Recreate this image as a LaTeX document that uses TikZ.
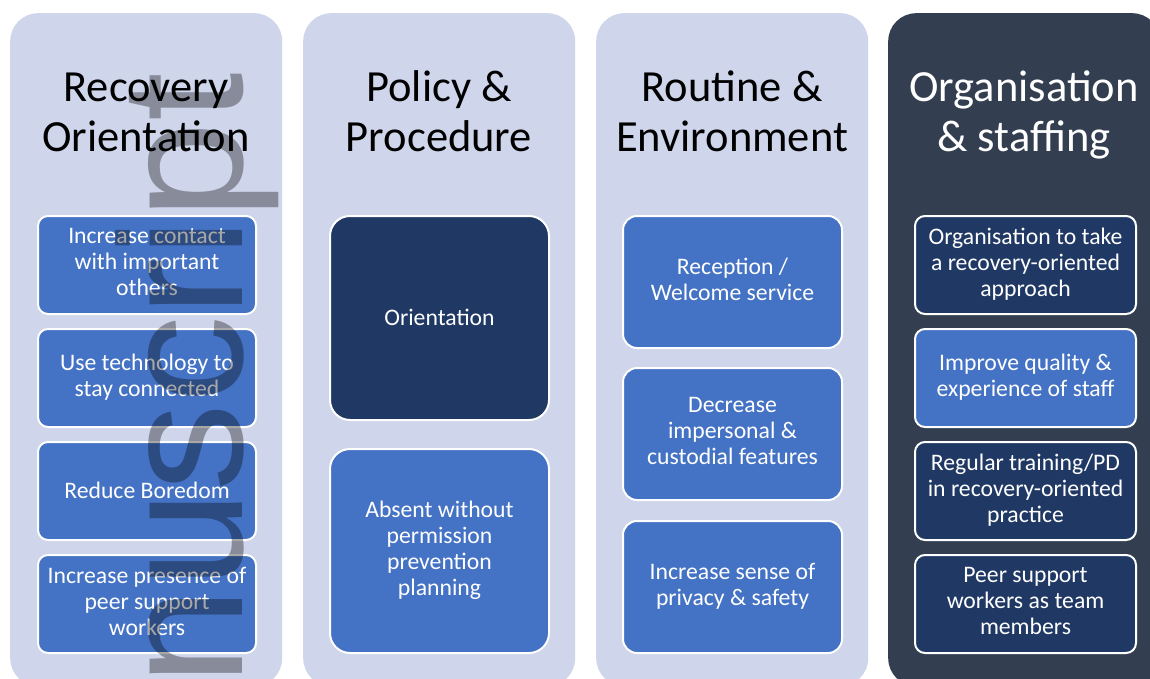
\documentclass[tikz,border=0pt]{standalone}
\usepackage{fontspec}
\setmainfont{Carlito}
\newfontfamily\wmfamily{Liberation Sans}
\definecolor{colbg}{HTML}{CFD5EA}
\definecolor{coldark}{HTML}{333F50}
\definecolor{boxblue}{HTML}{4472C4}
\definecolor{boxnavy}{HTML}{203864}
% fixed line box so that every label is centred the same way
\newcommand\boxstrut{\rule[-5.8pt]{0pt}{26pt}}
\tikzset{
  colbox/.style={fill=#1, rounded corners=28, inner sep=0, anchor=north west,
    minimum width=272, minimum height=673},
  coltitle/.style={anchor=base, align=center, inner sep=0, text=#1,
    font=\fontsize{44.5}{50}\selectfont},
  item/.style={draw=white, line width=2, fill=#1, anchor=north west,
    align=center, inner sep=0, text=white,
    font=\fontsize{23.7}{26}\selectfont,
    execute at begin node=\boxstrut, execute at end node=\boxstrut},
  itemA/.style={item=#1, rounded corners=10, minimum width=218, minimum height=98},
  itemB/.style={item=#1, rounded corners=20, minimum width=219, minimum height=204},
  itemC/.style={item=#1, rounded corners=14, minimum width=219, minimum height=132},
  itemD/.style={item=#1, rounded corners=10, minimum width=221, minimum height=98},
}
\begin{document}
\begin{tikzpicture}[x=1pt, y=-1pt]
\useasboundingbox (0,0) rectangle (1150,679);
\fill[white] (0,0) rectangle (1150,679);
\begin{scope}
\clip (0,0) rectangle (1150,679);

% four column panels
\node[colbox=colbg]   (c1) at (10,13)  {};
\node[colbox=colbg]   (c2) at (303,13) {};
\node[colbox=colbg]   (c3) at (596,13) {};
\node[colbox=coldark] (c4) at (888,13) {};

% column headings (anchored on the baseline of the second line)
\node[coltitle=black] (t1) at (146,152)  {Recovery\\Orientation};
\node[coltitle=black] (t2) at (439,152)  {Policy \&\\Procedure};
\node[coltitle=black] (t3) at (732,152)  {Routine \&\\Environment};
\node[coltitle=white] (t4) at (1024,152) {Organisation\\\& staffing};

% Recovery Orientation
\node[itemA=boxblue] (b11) at (37,215) {Increase contact\\with important\\others};
\node[itemA=boxblue] (b12) at (37,328) {Use technology to\\stay connected};
\node[itemA=boxblue] (b13) at (37,441) {Reduce Boredom};
\node[itemA=boxblue] (b14) at (37,554) {Increase presence of\\peer support\\workers};

% Policy & Procedure
\node[itemB=boxnavy] (b21) at (329,215) {Orientation};
\node[itemB=boxblue] (b22) at (329,448) {Absent without\\permission\\prevention\\planning};

% Routine & Environment
\node[itemC=boxblue] (b31) at (622,215) {Reception /\\Welcome service};
\node[itemC=boxblue] (b32) at (622,367) {Decrease\\impersonal \&\\custodial features};
\node[itemC=boxblue] (b33) at (622,520) {Increase sense of\\privacy \& safety};

% Organisation & staffing
\node[itemD=boxnavy] (b41) at (914,215) {Organisation to take\\a recovery-oriented\\approach};
\node[itemD=boxblue] (b42) at (914,328) {Improve quality \&\\experience of staff};
\node[itemD=boxnavy] (b43) at (914,441) {Regular training/PD\\in recovery-oriented\\practice};
\node[itemD=boxnavy] (b44) at (914,554) {Peer support\\workers as team\\members};

% translucent side watermark
\node[rotate=90, anchor=base west, inner sep=0, text=black, text opacity=0.34,
      font=\wmfamily\fontsize{175}{175}\selectfont] (wm) at (242,686) {nuscript};
\end{scope}
\end{tikzpicture}
\end{document}
